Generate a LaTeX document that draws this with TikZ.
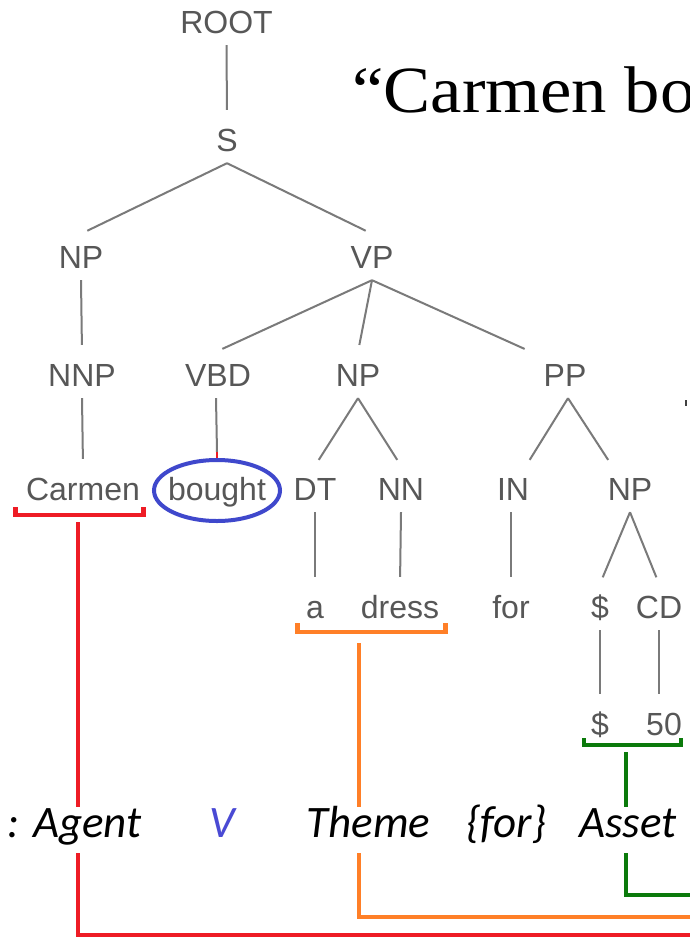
\documentclass[tikz,border=0pt]{standalone}
\usepackage{fontspec}
\usetikzlibrary{shapes.geometric,calc}
\newfontfamily\treefont{Liberation Sans}
\newfontfamily\rolefont{Carlito}
\newfontfamily\titlefont[FakeStretch=1.07]{Liberation Serif}
\definecolor{treetext}{HTML}{575757}
\definecolor{treeline}{HTML}{7A7A7A}
\definecolor{agentred}{HTML}{EE1C25}
\definecolor{themeorange}{HTML}{FF7F27}
\definecolor{assetgreen}{HTML}{0B7A0B}
\definecolor{ringblue}{HTML}{3F48CC}
\definecolor{vblue}{HTML}{4A4AD4}
\begin{document}
\begin{tikzpicture}[x=1pt,y=-1pt,
  tnode/.style={font=\treefont\fontsize{32}{38}\selectfont, text=treetext, anchor=base,
    text height=22pt, text depth=0pt, inner ysep=12pt, inner xsep=2pt},
  tline/.style={draw=treeline, line width=2pt, shorten >=7pt},
  role/.style={font=\rolefont\itshape\fontsize{45}{54}\selectfont, anchor=base,
    inner sep=0pt, text height=30pt, text depth=16pt},
  agentc/.style={draw=agentred, line width=4.5pt, line join=miter},
  themec/.style={draw=themeorange, line width=4.5pt, line join=miter},
  assetc/.style={draw=assetgreen, line width=4.5pt, line join=miter},
  ring/.style={ellipse, draw=ringblue, line width=4pt, minimum width=126pt,
    minimum height=61pt, inner sep=0pt}
]
\useasboundingbox[fill=white] (0,0) rectangle (690,937);

% title
\node[font=\titlefont\fontsize{66}{76}\selectfont, anchor=base west, inner sep=0pt]
  (title) at (352,112) {“Carmen bo};

% tree nodes
\node[tnode] (root) at (226.5,33) {ROOT};
\node[tnode] (s) at (227,151) {S};
\node[tnode] (np1) at (81,268) {NP};
\node[tnode] (vp) at (372,268) {VP};
\node[tnode] (nnp) at (82,386) {NNP};
\node[tnode] (vbd) at (218,386) {VBD};
\node[tnode] (np2) at (358,386) {NP};
\node[tnode] (pp) at (565,386) {PP};
\node[tnode] (carmen) at (83,500) {Carmen};
\node[tnode] (bought) at (217,500) {bought};
\node[tnode] (dt) at (315,500) {DT};
\node[tnode] (nn) at (401,500) {NN};
\node[tnode] (in) at (513,500) {IN};
\node[tnode] (np3) at (630,500) {NP};
\node[tnode] (a) at (315,618) {a};
\node[tnode] (dress) at (400,618) {dress};
\node[tnode] (for) at (511,618) {for};
\node[tnode] (dol1) at (600,618) {\$};
\node[tnode] (cd) at (659,618) {CD};
\node[tnode] (dol2) at (600,735) {\$};
\node[tnode] (fifty) at (664,735) {50};

% ring round "bought"
\node[ring] (boughtring) at (217,490.5) {};

% tree edges
\draw[tline] (root.south) -- (s.north);
\draw[tline] (s.south) -- (np1.north);
\draw[tline] (s.south) -- (vp.north);
\draw[tline] (np1.south) -- (nnp.north);
\draw[tline] (vp.south) -- ([xshift=-2pt]vbd.north);
\draw[tline] (vp.south) -- (np2.north);
\draw[tline] (vp.south) -- ([xshift=-34pt]pp.north);
\draw[tline] (nnp.south) -- (carmen.north);
\draw[draw=treeline, line width=2pt] ([xshift=-2pt]vbd.south) -- ([yshift=6pt]boughtring.north);
\draw[draw=agentred, line width=2pt] ([yshift=6pt]boughtring.north) -- (boughtring.north);
\draw[tline] (np2.south) -- (dt.north);
\draw[tline] (np2.south) -- (nn.north);
\draw[tline] ([xshift=3pt]pp.south) -- ([xshift=13pt]in.north);
\draw[tline] ([xshift=3pt]pp.south) -- ([xshift=-18pt]np3.north);
\draw[tline] (dt.south) -- (a.north);
\draw[tline] (nn.south) -- (dress.north);
\draw[tline] ([xshift=-2pt]in.south) -- (for.north);
\draw[tline] (np3.south) -- (dol1.north);
\draw[tline] (np3.south) -- (cd.north);
\draw[tline] (dol1.south) -- (dol2.north);
\draw[tline] (cd.south) -- (cd.south |- fifty.north);

% role row
\node[role] (agent) at (74.5,837) {: Agent};
\node[role, text=vblue] (v) at (222.5,837) {V};
\node[role] (theme) at (368.5,837) {Theme};
\node[role] (forrole) at (506.5,837) {\{for\}};
\node[role] (asset) at (628,837) {Asset};

% brackets
\draw[agentc] (15.5,507) -- (15.5,515) -- (143.5,515) -- (143.5,507);
\draw[themec] (297.5,623) -- (297.5,632) -- (445.5,632) -- (445.5,623);
\draw[assetc] (584,738) -- (584,745) -- (681,745) -- (681,738);

\coordinate (redtop) at (78,522);
\coordinate (orangetop) at (359,643);
\coordinate (greentop) at (626,752);
\coordinate (redend) at (700,935);
\coordinate (orangeend) at (700,917);
\coordinate (greenend) at (700,895);

% connectors
\draw[agentc] (redtop) -- (redtop |- agent.north);
\draw[agentc] (redtop |- agent.south) |- (redend);
\draw[themec] (orangetop) -- (orangetop |- theme.north);
\draw[themec] (orangetop |- theme.south) |- (orangeend);
\draw[assetc] (greentop) -- (greentop |- asset.north);
\draw[assetc] (greentop |- asset.south) |- (greenend);

% fragment at the right edge
\draw[line width=2pt, black!75] (685.5,400) -- (685.5,406);
\end{tikzpicture}
\end{document}
